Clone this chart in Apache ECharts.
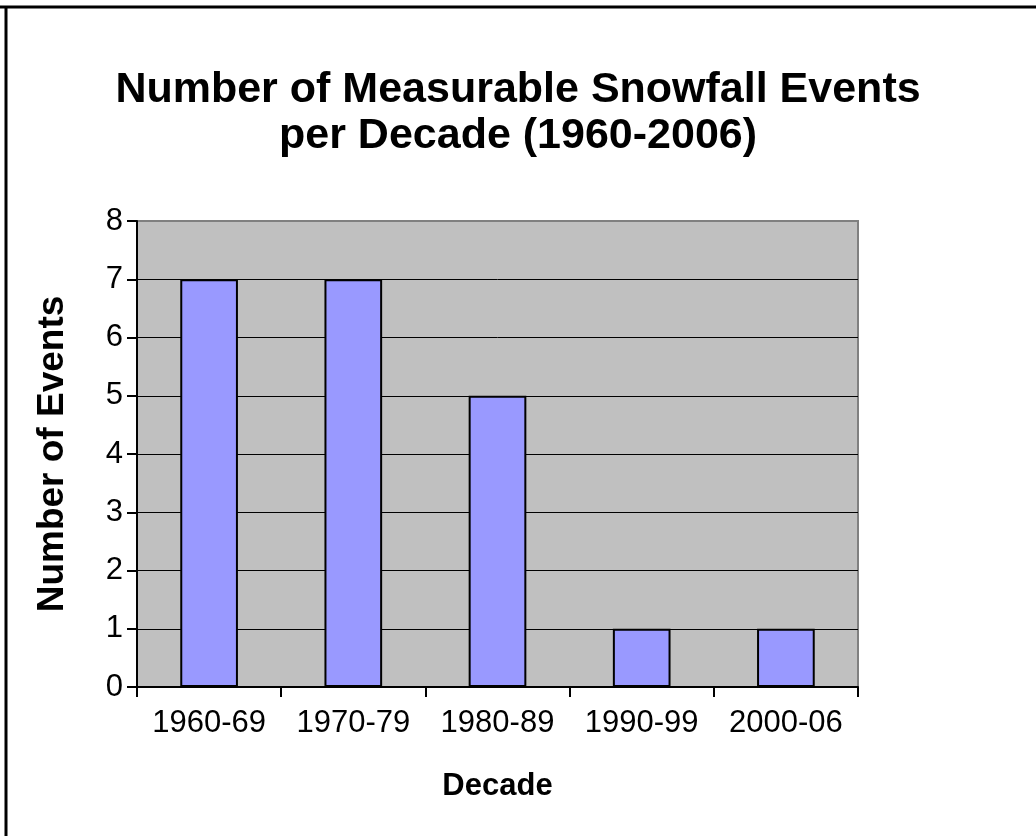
<!DOCTYPE html>
<html>
<head>
<meta charset="utf-8">
<title>Number of Measurable Snowfall Events per Decade (1960-2006)</title>
<script src="https://cdn.jsdelivr.net/npm/echarts@6/dist/echarts.min.js"></script>
<style>
  html, body { margin: 0; padding: 0; background: #ffffff; }
  #chart { width: 1036px; height: 836px; }
</style>
</head>
<body>
<div id="chart"></div>
<script>
// Decades and snowfall event counts
const decades = ['1960-69', '1970-79', '1980-89', '1990-99', '2000-06'];
const events = [7, 7, 5, 1, 1];
const yTicks = [0, 1, 2, 3, 4, 5, 6, 7, 8];

const chartTitle = 'Number of Measurable Snowfall Events\nper Decade (1960-2006)';
const xName = 'Decade';
const yName = 'Number of Events';

const FONT = '"Liberation Sans", Arial, Helvetica, sans-serif';

const chart = echarts.init(document.getElementById('chart'), null, { renderer: 'canvas' });

chart.setOption({
  backgroundColor: '#ffffff',
  animation: false,
  title: {
    text: chartTitle,
    left: 'center',
    top: 67,
    padding: 0,
    textStyle: {
      fontFamily: FONT,
      fontSize: 43,
      fontWeight: 'bold',
      lineHeight: 46,
      color: '#000000',
      align: 'center'
    }
  },
  grid: {
    left: 137,
    right: 178,
    top: 221,
    bottom: 149,
    show: true,
    backgroundColor: '#c0c0c0',
    borderColor: '#808080',
    borderWidth: 2
  },
  xAxis: {
    type: 'category',
    data: decades,
    name: xName,
    nameLocation: 'middle',
    nameGap: 84,
    nameTextStyle: {
      fontFamily: FONT,
      fontSize: 31,
      fontWeight: 'bold',
      color: '#000000'
    },
    axisLine: { show: true, lineStyle: { color: '#000000', width: 2 } },
    axisTick: { show: true, length: 10, lineStyle: { color: '#000000', width: 2 } },
    axisLabel: {
      fontFamily: FONT,
      fontSize: 31,
      color: '#000000',
      margin: 21,
      interval: 0
    },
    splitLine: { show: false }
  },
  yAxis: {
    type: 'value',
    min: yTicks[0],
    max: yTicks[yTicks.length - 1],
    interval: 1,
    name: yName,
    nameLocation: 'middle',
    nameGap: 66,
    nameRotate: 90,
    nameTextStyle: {
      fontFamily: FONT,
      fontSize: 37,
      fontWeight: 'bold',
      color: '#000000'
    },
    axisLine: { show: true, lineStyle: { color: '#000000', width: 2 } },
    axisTick: { show: true, length: 10, lineStyle: { color: '#000000', width: 2 } },
    axisLabel: {
      fontFamily: FONT,
      fontSize: 31,
      color: '#000000',
      margin: 14
    },
    splitLine: {
      show: true,
      showMaxLine: false,
      lineStyle: { color: '#000000', width: 1 }
    }
  },
  series: [{
    type: 'bar',
    data: events,
    barWidth: '40%',
    itemStyle: {
      color: '#9999ff',
      borderColor: '#000000',
      borderWidth: 2
    },
    z: 3
  }],
  graphic: [
    // frame lines along the top and left edges of the page
    { type: 'line', shape: { x1: 0, y1: 7, x2: 1036, y2: 7 }, style: { stroke: '#000000', lineWidth: 3 }, z: 100 },
    { type: 'line', shape: { x1: 6, y1: 6, x2: 6, y2: 836 }, style: { stroke: '#000000', lineWidth: 3 }, z: 100 }
  ]
});
</script>
</body>
</html>
